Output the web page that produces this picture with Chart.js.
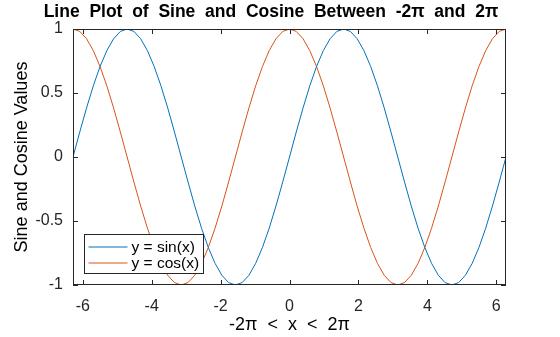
<!DOCTYPE html>
<html>
<head>
<meta charset="utf-8">
<script src="https://cdn.jsdelivr.net/npm/chart.js@4.4.1/dist/chart.umd.min.js"></script>
<style>
  html, body { margin: 0; padding: 0; background: #fff; }
  #wrap { width: 560px; height: 337px; }
</style>
</head>
<body>
<div id="wrap"><canvas id="myChart" width="560" height="337"></canvas></div>
<script>
// x samples, steps of pi/16 from -2pi to 2pi
const xValues = [
  -6.283, -6.087, -5.890, -5.694, -5.498, -5.301, -5.105, -4.909,
  -4.712, -4.516, -4.320, -4.123, -3.927, -3.731, -3.534, -3.338,
  -3.142, -2.945, -2.749, -2.553, -2.356, -2.160, -1.963, -1.767,
  -1.571, -1.374, -1.178, -0.982, -0.785, -0.589, -0.393, -0.196,
  0,
  0.196, 0.393, 0.589, 0.785, 0.982, 1.178, 1.374, 1.571,
  1.767, 1.963, 2.160, 2.356, 2.553, 2.749, 2.945, 3.142,
  3.338, 3.534, 3.731, 3.927, 4.123, 4.320, 4.516, 4.712,
  4.909, 5.105, 5.301, 5.498, 5.694, 5.890, 6.087, 6.283
];
const sinValues = [
  0, 0.195, 0.383, 0.556, 0.707, 0.831, 0.924, 0.981,
  1, 0.981, 0.924, 0.831, 0.707, 0.556, 0.383, 0.195,
  0, -0.195, -0.383, -0.556, -0.707, -0.831, -0.924, -0.981,
  -1, -0.981, -0.924, -0.831, -0.707, -0.556, -0.383, -0.195,
  0,
  0.195, 0.383, 0.556, 0.707, 0.831, 0.924, 0.981, 1,
  0.981, 0.924, 0.831, 0.707, 0.556, 0.383, 0.195, 0,
  -0.195, -0.383, -0.556, -0.707, -0.831, -0.924, -0.981, -1,
  -0.981, -0.924, -0.831, -0.707, -0.556, -0.383, -0.195, 0
];
const cosValues = [
  1, 0.981, 0.924, 0.831, 0.707, 0.556, 0.383, 0.195,
  0, -0.195, -0.383, -0.556, -0.707, -0.831, -0.924, -0.981,
  -1, -0.981, -0.924, -0.831, -0.707, -0.556, -0.383, -0.195,
  0, 0.195, 0.383, 0.556, 0.707, 0.831, 0.924, 0.981,
  1,
  0.981, 0.924, 0.831, 0.707, 0.556, 0.383, 0.195, 0,
  -0.195, -0.383, -0.556, -0.707, -0.831, -0.924, -0.981, -1,
  -0.981, -0.924, -0.831, -0.707, -0.556, -0.383, -0.195, 0,
  0.195, 0.383, 0.556, 0.707, 0.831, 0.924, 0.981, 1
];
const xTicks = [-6, -4, -2, 0, 2, 4, 6];
const yTicks = [-1, -0.5, 0, 0.5, 1];
const seriesNames = ['y = sin(x)', 'y = cos(x)'];
const seriesColors = ['#0072BD', '#D95319'];

const FONT = '"Liberation Sans", Arial, Helvetica, sans-serif';

function toPoints(ys) {
  return xValues.map((x, i) => ({ x: x, y: ys[i] }));
}

// box around the axes, inward tick marks on all four sides, legend inside lower left
const boxPlugin = {
  id: 'boxPlugin',
  afterDraw(chart) {
    const ctx = chart.ctx;
    const a = chart.chartArea;
    const xs = chart.scales.x, ys = chart.scales.y;
    ctx.save();
    ctx.strokeStyle = '#262626';
    ctx.lineWidth = 1;
    ctx.strokeRect(Math.round(a.left) + 0.5, Math.round(a.top) + 0.5,
      Math.round(a.right - a.left) - 1, Math.round(a.bottom - a.top) - 1);
    const len = 5;
    ctx.beginPath();
    xTicks.forEach(v => {
      const px = Math.round(xs.getPixelForValue(v)) + 0.5;
      ctx.moveTo(px, a.bottom); ctx.lineTo(px, a.bottom - len);
      ctx.moveTo(px, a.top); ctx.lineTo(px, a.top + len);
    });
    yTicks.forEach(v => {
      const py = Math.round(ys.getPixelForValue(v)) + 0.5;
      ctx.moveTo(a.left, py); ctx.lineTo(a.left + len, py);
      ctx.moveTo(a.right, py); ctx.lineTo(a.right - len, py);
    });
    ctx.stroke();

    // legend
    const lx = Math.round(a.left) + 11.5, lw = 119, lh = 39;
    const ly = Math.round(a.bottom) - 11.5 - lh;
    ctx.fillStyle = '#fff';
    ctx.fillRect(lx, ly, lw, lh);
    ctx.strokeStyle = '#262626';
    ctx.strokeRect(lx, ly, lw, lh);
    ctx.font = '15.5px ' + FONT;
    ctx.textBaseline = 'middle';
    chart.data.datasets.forEach((ds, i) => {
      const rowY = ly + 12.5 + i * 16;
      ctx.strokeStyle = ds.borderColor;
      ctx.beginPath();
      ctx.moveTo(lx + 4, rowY); ctx.lineTo(lx + 43, rowY);
      ctx.stroke();
      ctx.fillStyle = '#000';
      ctx.fillText(ds.label, lx + 47, rowY + 1);
    });
    ctx.restore();
  }
};

new Chart(document.getElementById('myChart'), {
  type: 'line',
  data: {
    datasets: [
      { label: seriesNames[0], data: toPoints(sinValues), borderColor: seriesColors[0],
        borderWidth: 1, pointRadius: 0, tension: 0 },
      { label: seriesNames[1], data: toPoints(cosValues), borderColor: seriesColors[1],
        borderWidth: 1, pointRadius: 0, tension: 0 }
    ]
  },
  options: {
    responsive: false,
    animation: false,
    devicePixelRatio: 1,
    layout: { padding: { left: 4, right: 22, top: 0, bottom: 0 } },
    plugins: {
      legend: { display: false },
      tooltip: { enabled: false },
      title: {
        display: true,
        text: 'Line  Plot  of  Sine  and  Cosine  Between  -2\u03C0  and  2\u03C0',
        color: '#000',
        font: { family: FONT, size: 17.5, weight: 'bold' },
        padding: { top: 2, bottom: 6 }
      }
    },
    scales: {
      x: {
        type: 'linear',
        min: -2 * Math.PI,
        max: 2 * Math.PI,
        afterBuildTicks: s => { s.ticks = xTicks.map(v => ({ value: v })); },
        afterFit: s => { s.height = 52; },
        ticks: { color: '#262626', font: { family: FONT, size: 16 }, padding: 12,
          maxRotation: 0, autoSkip: false, callback: v => String(v) },
        grid: { display: false, drawTicks: false },
        border: { display: false },
        title: { display: true, text: '-2\u03C0  <  x  <  2\u03C0', color: '#000',
          font: { family: FONT, size: 18 }, padding: { top: 0, bottom: 1 } }
      },
      y: {
        min: -1,
        max: 1,
        afterBuildTicks: s => { s.ticks = yTicks.map(v => ({ value: v })); },
        afterFit: s => { s.width = 69; },
        ticks: { color: '#262626', font: { family: FONT, size: 16 }, padding: 10,
          autoSkip: false, callback: v => String(v) },
        grid: { display: false, drawTicks: false },
        border: { display: false },
        title: { display: true, text: 'Sine and Cosine Values', color: '#000',
          font: { family: FONT, size: 18 }, padding: { top: 7, bottom: 0 } }
      },
      yRight: {
        position: 'right',
        display: true,
        afterFit: s => { s.width = 32; },
        ticks: { display: false },
        grid: { display: false, drawTicks: false },
        border: { display: false }
      }
    }
  },
  plugins: [boxPlugin]
});
</script>
</body>
</html>
